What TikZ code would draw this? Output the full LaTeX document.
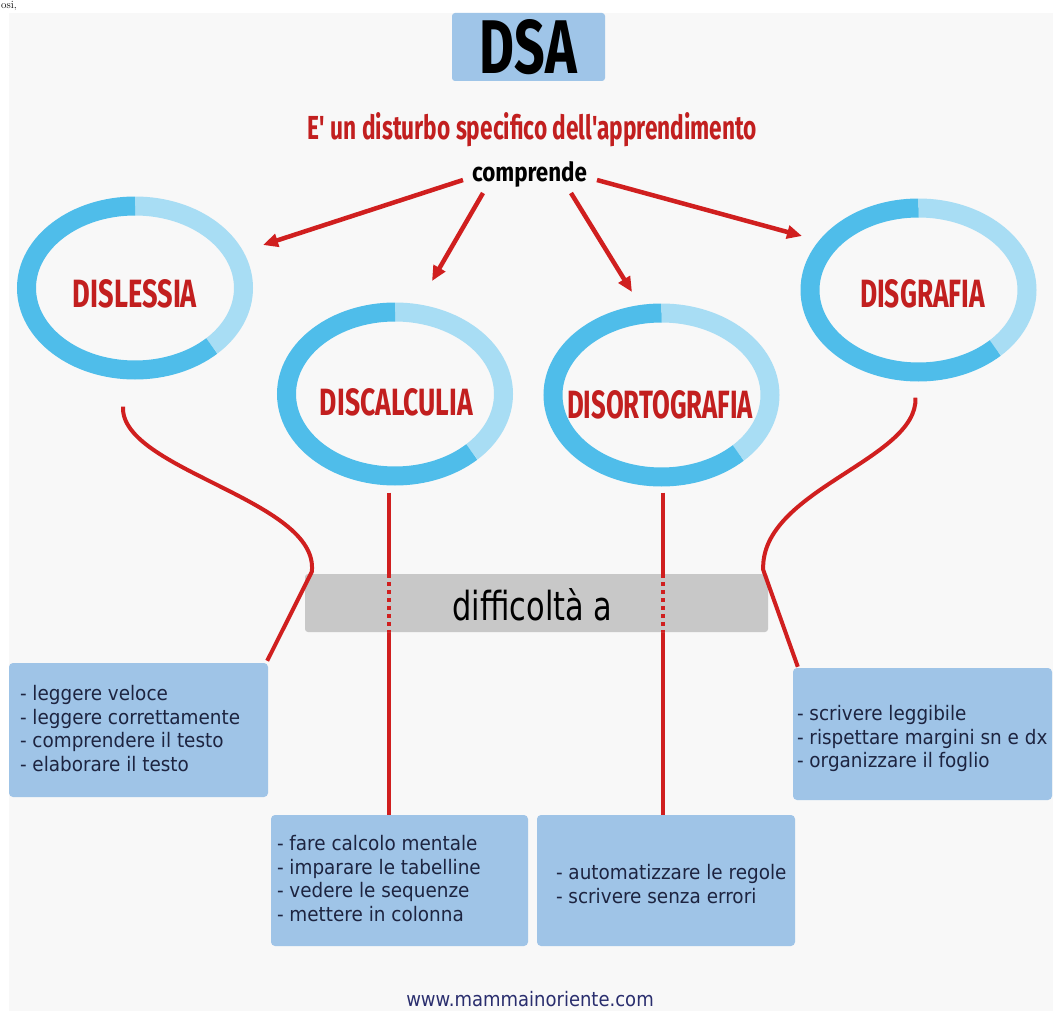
\documentclass[tikz,border=0pt]{standalone}
\usepackage{fontspec}
\usepackage{graphicx}
\usetikzlibrary{arrows.meta,shapes.geometric,calc}
\newfontfamily\titlefont{Fira Sans}
\newfontfamily\boxfont[FakeStretch=0.92]{DejaVu Sans}
\newfontfamily\barfont[FakeStretch=0.76]{DejaVu Sans}
\newfontfamily\footfont[FakeStretch=0.9]{DejaVu Sans}
\definecolor{bg}{HTML}{F8F8F8}
\definecolor{dsablue}{HTML}{9FC5E8}
\definecolor{boxblue}{HTML}{9FC4E7}
\definecolor{lred}{HTML}{D01F1F}
\definecolor{tred}{HTML}{C21F1F}
\definecolor{ringdk}{HTML}{4FBDEA}
\definecolor{ringlt}{HTML}{A8DDF4}
\definecolor{bargray}{HTML}{C8C8C8}
\definecolor{navy}{HTML}{1D2440}
\definecolor{footc}{HTML}{2A2E6E}
\newcommand\myring[1]{%
  \draw[ringlight] ([yshift=82pt]#1.center) arc[start angle=90,end angle=-45,x radius=108.5pt,y radius=82pt];
  \draw[ringdark] ([yshift=82pt]#1.center) arc[start angle=90,end angle=315,x radius=108.5pt,y radius=82pt];}
\begin{document}
\begin{tikzpicture}[x=1pt,y=-1pt,
  ringlight/.style={draw=ringlt,line width=19pt},
  ringdark/.style={draw=ringdk,line width=19pt},
  ringnode/.style={ellipse,minimum width=236pt,minimum height=183pt,inner sep=0pt},
  ringlabel/.style={anchor=base,inner sep=0pt,text=tred},
  arr/.style={draw=lred,line width=4.5pt,-{Triangle[length=15pt,width=13pt]}},
  rline/.style={draw=lred,line width=4pt,line join=round},
  dotline/.style={draw=lred,line width=4pt,dash pattern=on 4pt off 4pt},
  bbox/.style={fill=boxblue,rounded corners=4pt,inner sep=0pt},
  btext/.style={anchor=west,inner sep=0pt,align=left,text=navy,font=\boxfont\fontsize{20}{23.5}\selectfont}]
\clip (0,0) rectangle (1053,1011);
\fill[white] (0,0) rectangle (1053,1011);
\fill[bg] (9,13) rectangle (1053,1011);
\node[anchor=base west,inner sep=0pt,font=\fontsize{11}{11}\selectfont] (frag) at (1,9) {osi,};
% title
\node[fill=dsablue,rounded corners=3pt,minimum width=153pt,minimum height=68pt,inner sep=0pt] (dsa) at (528.5,47) {\resizebox{97pt}{54pt}{\titlefont\bfseries DSA}};
\node[anchor=base,inner sep=0pt,text=tred] (sub) at (532.5,140) {\resizebox{449pt}{27pt}{\titlefont\bfseries E' un disturbo specifico dell'apprendimento}};
\node[anchor=base,inner sep=0pt] (comp) at (529.5,182) {\resizebox{115pt}{20pt}{\titlefont\bfseries comprende}};
% ring nodes
\node[ringnode] (dis) at (135,288) {};
\node[ringnode] (dcal) at (395,394) {};
\node[ringnode] (dort) at (661.5,395) {};
\node[ringnode] (disg) at (918.5,290) {};
% boxes and bar positions
\node[bbox,minimum width=259pt,minimum height=134pt] (lbox) at (138.5,730) {};
\node[bbox,minimum width=257pt,minimum height=131pt] (cbox) at (399.5,880.5) {};
\node[bbox,minimum width=258pt,minimum height=131pt] (obox) at (666,880.5) {};
\node[bbox,minimum width=259pt,minimum height=132pt] (rbox) at (922.5,734) {};
% connectors under the bar
\coordinate (c1) at ($(dcal.south)+(-6,7)$);
\coordinate (c2) at ($(dort.south)+(1,6)$);
\draw[rline] (c1) -- (c1 |- cbox.north);
\draw[rline] (c2) -- (c2 |- obox.north);
\node[fill=bargray,rounded corners=3pt,minimum width=463pt,minimum height=58pt,inner sep=0pt] (bar) at (536.5,603) {};
\draw[dotline] (c1 |- bar.north) -- (c1 |- bar.south);
\draw[dotline] (c2 |- bar.north) -- (c2 |- bar.south);
\node[anchor=base,inner sep=0pt,font=\barfont\fontsize{40}{40}\selectfont] (bartext) at (532.5,620) {difficoltà a};
% curved connectors
\coordinate (kl) at ($(bar.north west)+(7,-2)$);
\coordinate (kr) at ($(bar.north east)+(-5,-4)$);
\draw[rline] ($(dis.south)+(-12,27)$) .. controls (120,470) and (320,500) .. (kl) -- ($(lbox.north east)+(-1,-2)$);
\draw[rline] ($(disg.south)+(-3,16)$) .. controls (918,460) and (760,490) .. (kr) -- ($(rbox.north west)+(5,-1)$);
% rings
\myring{dis}
\myring{dcal}
\myring{dort}
\myring{disg}
\node[ringlabel] (disl) at (135,308) {\resizebox{124pt}{28pt}{\titlefont\bfseries DISLESSIA}};
\node[ringlabel] (dcall) at (396.5,415) {\resizebox{153pt}{27pt}{\titlefont\bfseries DISCALCULIA}};
\node[ringlabel] (dortl) at (660,418) {\resizebox{186pt}{28pt}{\titlefont\bfseries DISORTOGRAFIA}};
\node[ringlabel] (disgl) at (922.5,308) {\resizebox{125pt}{28pt}{\titlefont\bfseries DISGRAFIA}};
% arrows
\draw[arr] ($(comp.base)+(-66.5,-2)$) -- ($(dis.center)+(128,-43)$);
\draw[arr] ($(comp.base)+(-46.5,11)$) -- ($(dcal.center)+(37,-113)$);
\draw[arr] ($(comp.base)+(41.5,11)$) -- ($(dort.center)+(-29.5,-103)$);
\draw[arr] ($(comp.base)+(67.5,-2)$) -- ($(disg.center)+(-116.5,-54)$);
% box texts
\node[btext] (lt) at ($(lbox.west)+(11,-1.5)$) {- leggere veloce\\- leggere correttamente\\- comprendere il testo\\- elaborare il testo};
\node[btext] (ct) at ($(cbox.west)+(6,-2)$) {- fare calcolo mentale\\- imparare le tabelline\\- vedere le sequenze\\- mettere in colonna};
\node[btext] (ot) at ($(obox.west)+(19,3.5)$) {- automatizzare le regole\\- scrivere senza errori};
\node[btext] (rt) at ($(rbox.west)+(4,4.75)$) {- scrivere leggibile\\- rispettare margini sn e dx\\- organizzare il foglio};
% footer
\node[anchor=base,inner sep=0pt,text=footc,font=\footfont\fontsize{20}{24}\selectfont] (foot) at (530,1006) {www.mammainoriente.com};
\end{tikzpicture}
\end{document}
